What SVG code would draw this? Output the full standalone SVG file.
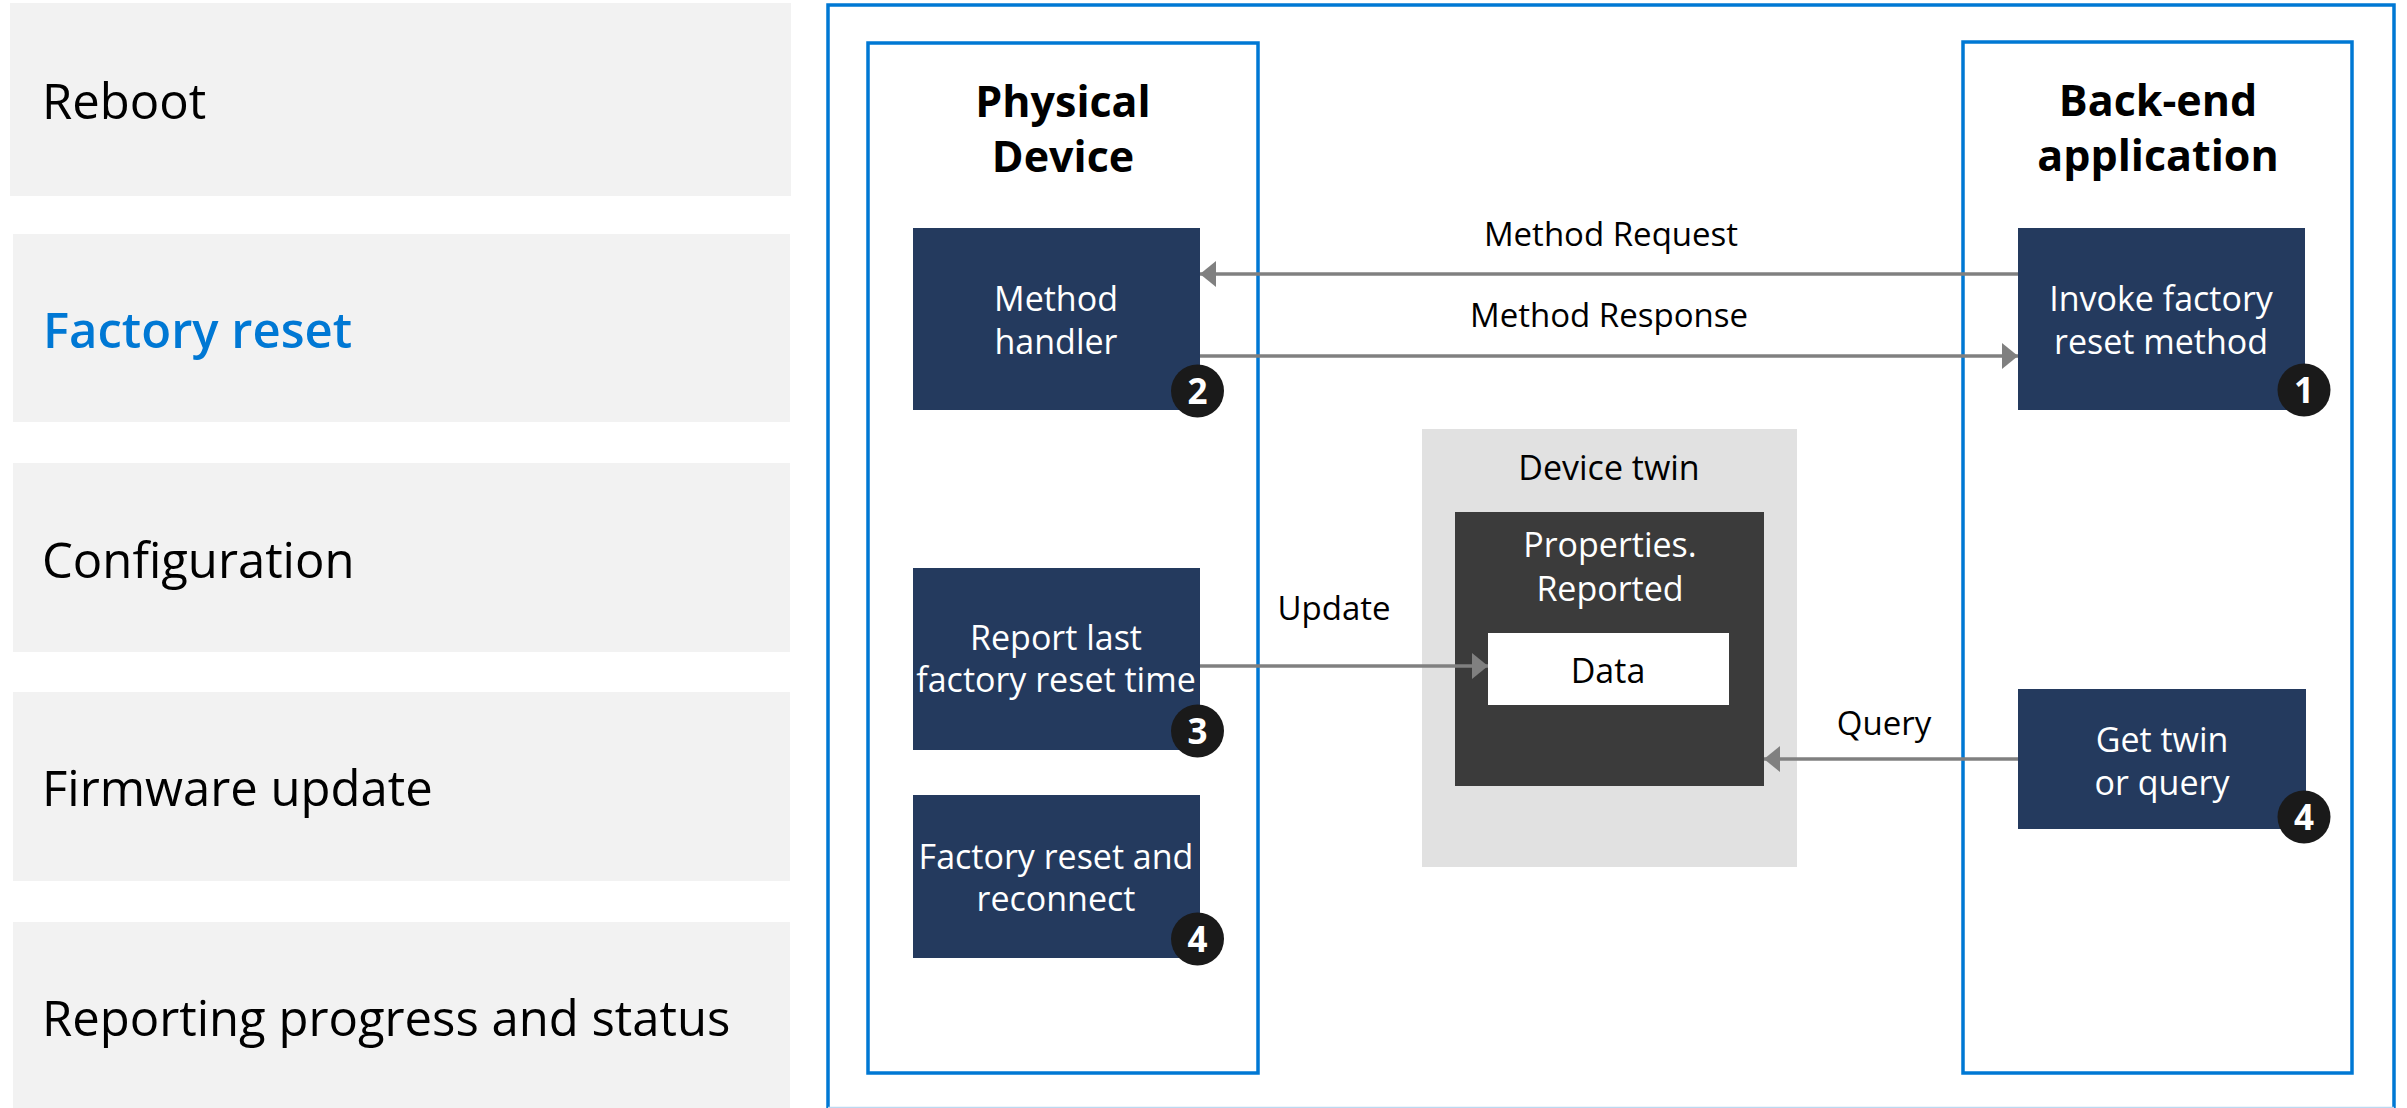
<svg xmlns="http://www.w3.org/2000/svg" width="2407" height="1108" viewBox="0 0 2407 1108">
  <defs>
    <style>
      text { font-family: "Open Sans", "Noto Sans", "Liberation Sans", sans-serif; }
      .panel { fill: #F2F2F2; }
      .panel-label { font-size: 49px; fill: #000000; }
      .panel-active { fill: #0078D4; font-weight: 600; }
      .lane { fill: none; stroke: #0078D4; stroke-width: 3.5; }
      .lane-title { font-size: 43px; font-weight: bold; fill: #000000; text-anchor: middle; }
      .node { fill: #243A5E; }
      .node-text { font-size: 34px; fill: #FFFFFF; text-anchor: middle; }
      .badge { fill: #1A1A1A; }
      .badge-text { font-size: 35px; font-weight: bold; fill: #FFFFFF; text-anchor: middle; }
      .edge { fill: none; stroke: #808080; stroke-width: 3.5; }
      .edge-label { font-size: 33px; fill: #000000; text-anchor: middle; }
    </style>
    <marker id="arrow" viewBox="0 0 16 26" refX="16" refY="13" markerWidth="16" markerHeight="26" markerUnits="userSpaceOnUse" orient="auto">
      <path d="M0,0 L16,13 L0,26 Z" fill="#808080"/>
    </marker>
  </defs>

  <rect width="2407" height="1108" fill="#FFFFFF"/>

  <!-- scenario list -->
  <g id="scenario-reboot">
    <rect class="panel" x="10" y="3" width="781" height="193"/>
    <text class="panel-label" x="42" y="119">Reboot</text>
  </g>
  <g id="scenario-factory-reset">
    <rect class="panel" x="13" y="234" width="777" height="188"/>
    <text class="panel-label panel-active" x="43" y="348">Factory reset</text>
  </g>
  <g id="scenario-configuration">
    <rect class="panel" x="13" y="463" width="777" height="189"/>
    <text class="panel-label" x="42" y="578">Configuration</text>
  </g>
  <g id="scenario-firmware">
    <rect class="panel" x="13" y="692" width="777" height="189"/>
    <text class="panel-label" x="42" y="806">Firmware update</text>
  </g>
  <g id="scenario-reporting">
    <rect class="panel" x="13" y="922" width="777" height="190"/>
    <text class="panel-label" x="42" y="1036">Reporting progress and status</text>
  </g>

  <!-- outer frame: the bottom edge sits on the lower border as a faint line -->
  <g id="frame">
    <path class="lane" d="M828,1108 V5 H2394 V1108"/>
    <line x1="828" y1="1107.5" x2="2394" y2="1107.5" stroke="#BCD8F0" stroke-width="1.5"/>
  </g>

  <!-- device lane -->
  <g id="lane-device">
    <rect class="lane" x="868" y="43" width="390" height="1030"/>
    <text class="lane-title" x="1063" y="117">Physical</text>
    <text class="lane-title" x="1063" y="172">Device</text>
  </g>

  <!-- back-end lane -->
  <g id="lane-backend">
    <rect class="lane" x="1963" y="42" width="389" height="1031"/>
    <text class="lane-title" x="2158" y="116">Back-end</text>
    <text class="lane-title" x="2158" y="171">application</text>
  </g>

  <!-- device twin -->
  <g id="device-twin">
    <rect x="1422" y="429" width="375" height="438" fill="#E1E1E1"/>
    <text x="1609" y="480" font-size="34" fill="#000000" text-anchor="middle">Device twin</text>
  </g>
  <g id="reported-properties">
    <rect x="1455" y="512" width="309" height="274" fill="#3B3B3B"/>
    <text x="1610" y="557" font-size="34" fill="#FFFFFF" text-anchor="middle">Properties.</text>
    <text x="1610" y="601" font-size="34" fill="#FFFFFF" text-anchor="middle">Reported</text>
  </g>
  <g id="reported-data">
    <rect x="1488" y="633" width="241" height="72" fill="#FFFFFF"/>
    <text x="1608" y="683" font-size="34" fill="#000000" text-anchor="middle">Data</text>
  </g>

  <!-- device nodes -->
  <g id="method-handler">
    <rect class="node" x="913" y="228" width="287" height="182"/>
    <text class="node-text" x="1056" y="311">Method</text>
    <text class="node-text" x="1056" y="354">handler</text>
    <circle class="badge" cx="1197.5" cy="391" r="26.5"/>
    <text class="badge-text" x="1197.5" y="403.5">2</text>
  </g>
  <g id="report-reset-time">
    <rect class="node" x="913" y="568" width="287" height="182"/>
    <text class="node-text" x="1056" y="650">Report last</text>
    <text class="node-text" x="1056" y="692">factory reset time</text>
    <circle class="badge" cx="1197.5" cy="731" r="26.5"/>
    <text class="badge-text" x="1197.5" y="743.5">3</text>
  </g>
  <g id="reset-reconnect">
    <rect class="node" x="913" y="795" width="287" height="163"/>
    <text class="node-text" x="1056" y="869">Factory reset and</text>
    <text class="node-text" x="1056" y="911">reconnect</text>
    <circle class="badge" cx="1197.5" cy="939" r="26.5"/>
    <text class="badge-text" x="1197.5" y="951.5">4</text>
  </g>

  <!-- back-end nodes -->
  <g id="invoke-reset">
    <rect class="node" x="2018" y="228" width="287" height="182"/>
    <text class="node-text" x="2161" y="311">Invoke factory</text>
    <text class="node-text" x="2161" y="354">reset method</text>
    <circle class="badge" cx="2304" cy="390" r="26.5"/>
    <text class="badge-text" x="2304" y="402.5">1</text>
  </g>
  <g id="get-twin">
    <rect class="node" x="2018" y="689" width="288" height="140"/>
    <text class="node-text" x="2162" y="752">Get twin</text>
    <text class="node-text" x="2162" y="795">or query</text>
    <circle class="badge" cx="2304" cy="817" r="26.5"/>
    <text class="badge-text" x="2304" y="829.5">4</text>
  </g>

  <!-- connectors -->
  <g id="connectors">
    <line class="edge" x1="2018" y1="274" x2="1200" y2="274" marker-end="url(#arrow)"/>
    <text class="edge-label" x="1611" y="246">Method Request</text>
    <line class="edge" x1="1200" y1="356" x2="2018" y2="356" marker-end="url(#arrow)"/>
    <text class="edge-label" x="1609" y="327">Method Response</text>
    <line class="edge" x1="1200" y1="666" x2="1488" y2="666" marker-end="url(#arrow)"/>
    <text class="edge-label" x="1334" y="620">Update</text>
    <line class="edge" x1="2018" y1="759" x2="1764" y2="759" marker-end="url(#arrow)"/>
    <text class="edge-label" x="1884" y="735">Query</text>
  </g>
</svg>
